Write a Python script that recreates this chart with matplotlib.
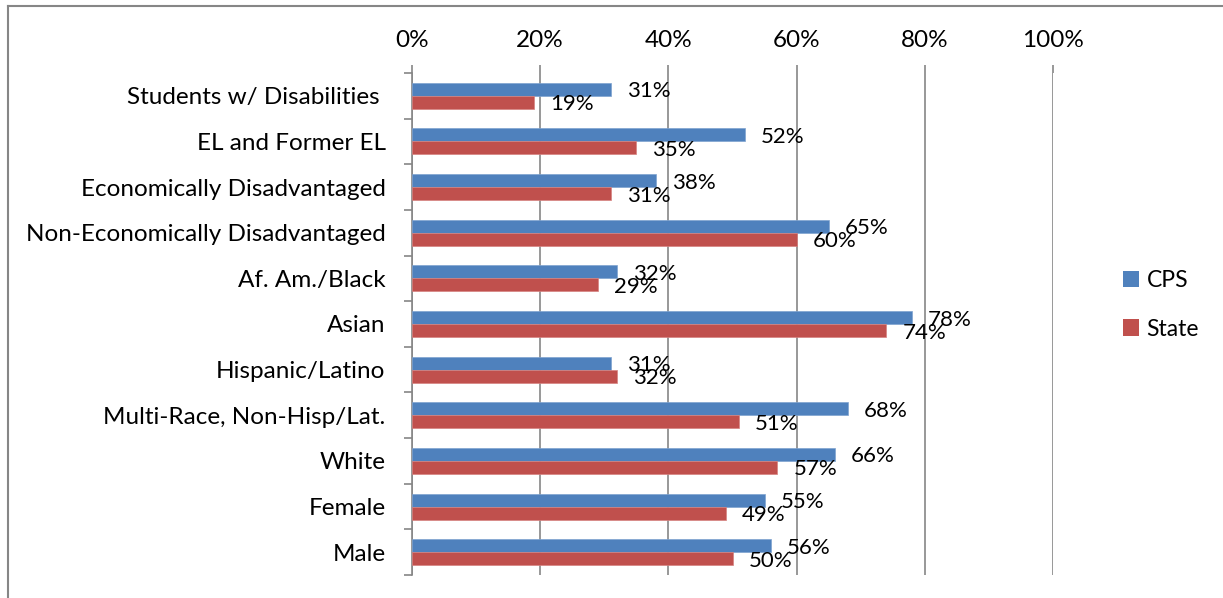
import matplotlib
matplotlib.use("Agg")
import matplotlib.pyplot as plt
from matplotlib.ticker import FixedLocator, PercentFormatter

plt.rcParams['font.family'] = ['Lato', 'DejaVu Sans']

categories = [
    "Students w/ Disabilities ",
    "EL and Former EL",
    "Economically Disadvantaged",
    "Non-Economically Disadvantaged",
    "Af. Am./Black",
    "Asian",
    "Hispanic/Latino",
    "Multi-Race, Non-Hisp/Lat.",
    "White",
    "Female",
    "Male",
]
cps = [31, 52, 38, 65, 32, 78, 31, 68, 66, 55, 56]
state = [19, 35, 31, 60, 29, 74, 32, 51, 57, 49, 50]
series_names = ["CPS", "State"]
x_ticks = [0, 20, 40, 60, 80, 100]

W, H = 1223, 598
fig = plt.figure(figsize=(W / 100, H / 100), dpi=100)
ax = fig.add_axes([412 / W, 1 - 575 / H, (1053 - 412) / W, (575 - 73) / H])

grey = "#868686"
blue = "#4F81BD"
red = "#C0504D"
bh = 0.285
pos = list(range(len(categories)))

b1 = ax.barh([p - bh / 2 for p in pos], cps, height=bh, color=blue,
             edgecolor="#7FA3D0", linewidth=0.5, label=series_names[0], zorder=3)
b2 = ax.barh([p + bh / 2 for p in pos], state, height=bh, color=red,
             edgecolor="#D68380", linewidth=0.5, label=series_names[1], zorder=3)

fs = 16.5
for bars, vals in ((b1, cps), (b2, state)):
    for rect, v in zip(bars, vals):
        ax.annotate(f"{v}%", (rect.get_width(), rect.get_y() + rect.get_height() / 2),
                    xytext=(11.5, -1.5), textcoords="offset points",
                    ha="left", va="center", fontsize=16, color="black", zorder=5,
                    annotation_clip=False)

ax.set_xlim(0, 100)
ax.set_ylim(len(categories) - 0.5, -0.5)

ax.xaxis.set_ticks_position("top")
ax.xaxis.set_major_locator(FixedLocator(x_ticks))
ax.xaxis.set_major_formatter(PercentFormatter(decimals=0))
ax.tick_params(axis="x", direction="out", length=6, width=1.2, color=grey,
               pad=10, labelsize=17.5)
ax.grid(axis="x", color=grey, linewidth=1.2, zorder=0)

ax.set_yticks(pos)
ax.set_yticklabels(categories)
ax.set_yticks([p - 0.5 for p in pos] + [len(categories) - 0.5], minor=True)
ax.tick_params(axis="y", which="major", length=0, pad=19, labelsize=17.5)
ax.tick_params(axis="y", which="minor", direction="out", length=6, width=1.2, color=grey)

for s in ("top", "right", "bottom"):
    ax.spines[s].set_visible(False)
ax.spines["left"].set_color(grey)
ax.spines["left"].set_linewidth(1.2)

leg = fig.legend(handles=[b1, b2], labels=series_names, loc="center left",
                 bbox_to_anchor=(1102 / W, 1 - 305 / H), frameon=False,
                 fontsize=fs, handlelength=0.7, handleheight=0.7,
                 handletextpad=0.35, labelspacing=1.18)
for h in leg.legend_handles:
    h.set_edgecolor("none")

# outer chart border (left and top edges visible)
fig.add_artist(plt.Line2D([8 / W, 8 / W], [0, 1 - 6 / H], color=grey, linewidth=1.5,
                          transform=fig.transFigure))
fig.add_artist(plt.Line2D([8 / W, 1], [1 - 6 / H, 1 - 6 / H], color=grey, linewidth=1.5,
                          transform=fig.transFigure))

fig.savefig("out.png", dpi=100)
